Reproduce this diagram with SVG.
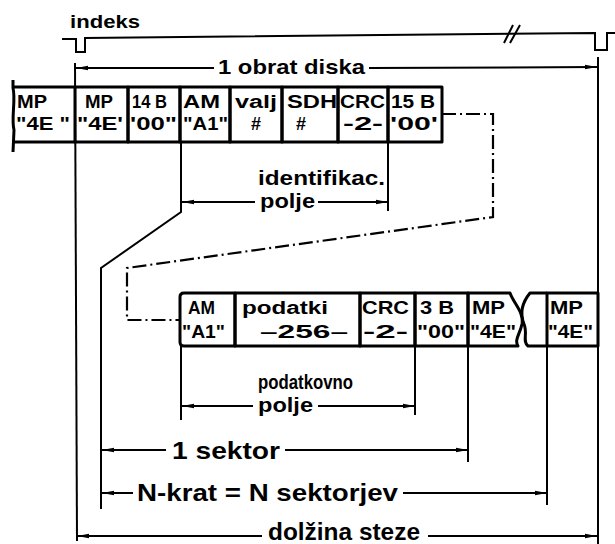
<svg xmlns="http://www.w3.org/2000/svg" width="615" height="544" viewBox="0 0 615 544">
<defs>
<marker id="arr" viewBox="0 0 12 6" refX="12" refY="3" markerWidth="12" markerHeight="6" markerUnits="userSpaceOnUse" orient="auto"><path d="M0,0.8 L12,3 L0,5.2 Z" fill="#000"/></marker>
</defs>
<style>
.t{font-family:"Liberation Sans",Arial,sans-serif;font-weight:bold;fill:#000}
.r{font-size:18px}
.l{font-size:21px}
.b{font-size:24px}
.m{text-anchor:middle}
.box{fill:none;stroke:#000;stroke-width:3;stroke-linejoin:round}
.ext{fill:none;stroke:#000;stroke-width:2}
.dim{fill:none;stroke:#000;stroke-width:2;marker-end:url(#arr)}
.dd{fill:none;stroke:#000;stroke-width:2.2;stroke-dasharray:14 4 2 4}
</style>
<rect width="615" height="544" fill="#fff"/>

<g id="index-signal">
<text class="t r" x="70" y="28" textLength="70" lengthAdjust="spacingAndGlyphs">indeks</text>
<path class="ext" d="M62,39 L76,39 L76,52 L85,52 L85,38 L595,33 L595,50 L607,50 L607,33 L615,33" stroke-width="2.5"/>
<path class="ext" d="M504,43 L513,25 M510,43 L520,25"/>
</g>

<g id="row1">
<g id="r1-mp1">
<path class="box" d="M13,80 L13,88 C16,100 11,118 14,130 L13,152 M13,87 L75,87 M12,142 L75,142"/>
<text class="t r" x="17" y="108" textLength="30" lengthAdjust="spacingAndGlyphs">MP</text>
<text class="t r" x="16" y="130" textLength="54" lengthAdjust="spacingAndGlyphs">"4E "</text>
</g>
<g id="r1-mp2">
<rect class="box" x="75" y="87" width="53" height="55"/>
<text class="t r" x="85" y="108" textLength="28" lengthAdjust="spacingAndGlyphs">MP</text>
<text class="t r" x="77" y="130" textLength="46" lengthAdjust="spacingAndGlyphs">"4E'</text>
</g>
<g id="r1-14b">
<rect class="box" x="128" y="87" width="52" height="55"/>
<text class="t r" x="132" y="108" textLength="35" lengthAdjust="spacingAndGlyphs">14 B</text>
<text class="t r" x="130" y="130" textLength="47" lengthAdjust="spacingAndGlyphs">'00"</text>
</g>
<g id="r1-am">
<rect class="box" x="180" y="87" width="50" height="55"/>
<text class="t r" x="183" y="108" textLength="37" lengthAdjust="spacingAndGlyphs">AM</text>
<text class="t r" x="183" y="130" textLength="45" lengthAdjust="spacingAndGlyphs">"A1"</text>
</g>
<g id="r1-valj">
<rect class="box" x="230" y="87" width="52" height="55"/>
<text class="t r" x="235" y="108" textLength="42" lengthAdjust="spacingAndGlyphs">valj</text>
<text class="t r m" x="256" y="130">#</text>
</g>
<g id="r1-sdh">
<rect class="box" x="282" y="87" width="56" height="55"/>
<text class="t r" x="287" y="108" textLength="50" lengthAdjust="spacingAndGlyphs">SDH</text>
<text class="t r m" x="301" y="130">#</text>
</g>
<g id="r1-crc">
<rect class="box" x="338" y="87" width="50" height="55"/>
<text class="t r" x="340" y="108" textLength="45" lengthAdjust="spacingAndGlyphs">CRC</text>
<text class="t r" x="343" y="130" textLength="40" lengthAdjust="spacingAndGlyphs">-2-</text>
</g>
<g id="r1-15b">
<rect class="box" x="388" y="87" width="54" height="55"/>
<text class="t r" x="391" y="108" textLength="44" lengthAdjust="spacingAndGlyphs">15 B</text>
<text class="t r" x="390" y="130" textLength="48" lengthAdjust="spacingAndGlyphs">'00'</text>
</g>
</g>

<g id="row2">
<g id="r2-am">
<path class="box" d="M235,293 L184,293 Q180,293 180,297 L180,342 Q180,346 184,346 L235,346 Z"/>
<text class="t r" x="188" y="314" textLength="27" lengthAdjust="spacingAndGlyphs">AM</text>
<text class="t r" x="182" y="338" textLength="43" lengthAdjust="spacingAndGlyphs">"A1"</text>
</g>
<g id="r2-podatki">
<rect class="box" x="235" y="293" width="125" height="53"/>
<text class="t r" x="242" y="314" textLength="86" lengthAdjust="spacingAndGlyphs">podatki</text>
<text class="t r" x="260" y="338" textLength="88" lengthAdjust="spacingAndGlyphs">–256–</text>
</g>
<g id="r2-crc">
<rect class="box" x="360" y="293" width="55" height="53"/>
<text class="t r" x="362" y="314" textLength="47" lengthAdjust="spacingAndGlyphs">CRC</text>
<text class="t r" x="363" y="338" textLength="45" lengthAdjust="spacingAndGlyphs">-2-</text>
</g>
<g id="r2-3b">
<rect class="box" x="415" y="293" width="53" height="53"/>
<text class="t r" x="420" y="314" textLength="34" lengthAdjust="spacingAndGlyphs">3 B</text>
<text class="t r" x="417" y="338" textLength="48" lengthAdjust="spacingAndGlyphs">"00"</text>
</g>
<g id="r2-mp1">
<path class="box" d="M468,293 L510,293 C514,304 524,312 522,324 C520,334 514,340 518,346 L468,346 Z"/>
<text class="t r" x="472" y="314" textLength="33" lengthAdjust="spacingAndGlyphs">MP</text>
<text class="t r" x="470" y="338" textLength="46" lengthAdjust="spacingAndGlyphs">"4E"</text>
</g>
<g id="r2-cut">
<path class="box" d="M547,293 L530,293 C521,304 520,314 524,324 C528,334 522,341 528,346 L547,346"/>
</g>
<g id="r2-mp2">
<rect class="box" x="547" y="293" width="51" height="53"/>
<text class="t r" x="550" y="314" textLength="33" lengthAdjust="spacingAndGlyphs">MP</text>
<text class="t r" x="548" y="338" textLength="45" lengthAdjust="spacingAndGlyphs">"4E"</text>
</g>
</g>

<g id="connectors">
<path class="ext" d="M75,63 L77,541"/>
<path class="ext" d="M598,57 L598,544"/>
<path class="ext" d="M181,142 L181,212 L101,268 L101,509"/>
<path class="ext" d="M388,142 L388,211"/>
<path class="ext" d="M181,346 L181,420"/>
<path class="ext" d="M415,346 L415,415"/>
<path class="ext" d="M468,346 L468,462"/>
<path class="ext" d="M547,346 L547,505"/>
<path class="dd" d="M442,114 L493,114 L493,217 L127,268 L127,320 L180,320"/>
<path class="dim" d="M214,68 L76,68"/>
<path class="dim" d="M369,68 L597,67"/>
<path class="dim" d="M255,202 L182,202"/>
<path class="dim" d="M318,202 L388,202"/>
<path class="dim" d="M253,406 L182,406"/>
<path class="dim" d="M318,406 L415,406"/>
<path class="dim" d="M166,450 L102,450"/>
<path class="dim" d="M285,450 L468,450"/>
<path class="dim" d="M133,493 L102,493"/>
<path class="dim" d="M403,493 L547,493"/>
<path class="dim" d="M262,536 L77,536"/>
<path class="dim" d="M428,536 L597,536"/>
</g>

<g id="labels">
<text class="t" x="218" y="74" font-size="21" textLength="147" lengthAdjust="spacingAndGlyphs">1 obrat diska</text>
<text class="t l" x="258" y="185" textLength="127" lengthAdjust="spacingAndGlyphs">identifikac.</text>
<text class="t l" x="260" y="208" textLength="55" lengthAdjust="spacingAndGlyphs">polje</text>
<text class="t l" x="258" y="389" textLength="95" lengthAdjust="spacingAndGlyphs">podatkovno</text>
<text class="t l" x="258" y="412" textLength="55" lengthAdjust="spacingAndGlyphs">polje</text>
<text class="t b" x="172" y="459" textLength="108" lengthAdjust="spacingAndGlyphs">1 sektor</text>
<text class="t b" x="137" y="501" textLength="261" lengthAdjust="spacingAndGlyphs">N-krat = N sektorjev</text>
<text class="t b" x="268" y="540" textLength="152" lengthAdjust="spacingAndGlyphs">dolžina steze</text>
</g>
</svg>
